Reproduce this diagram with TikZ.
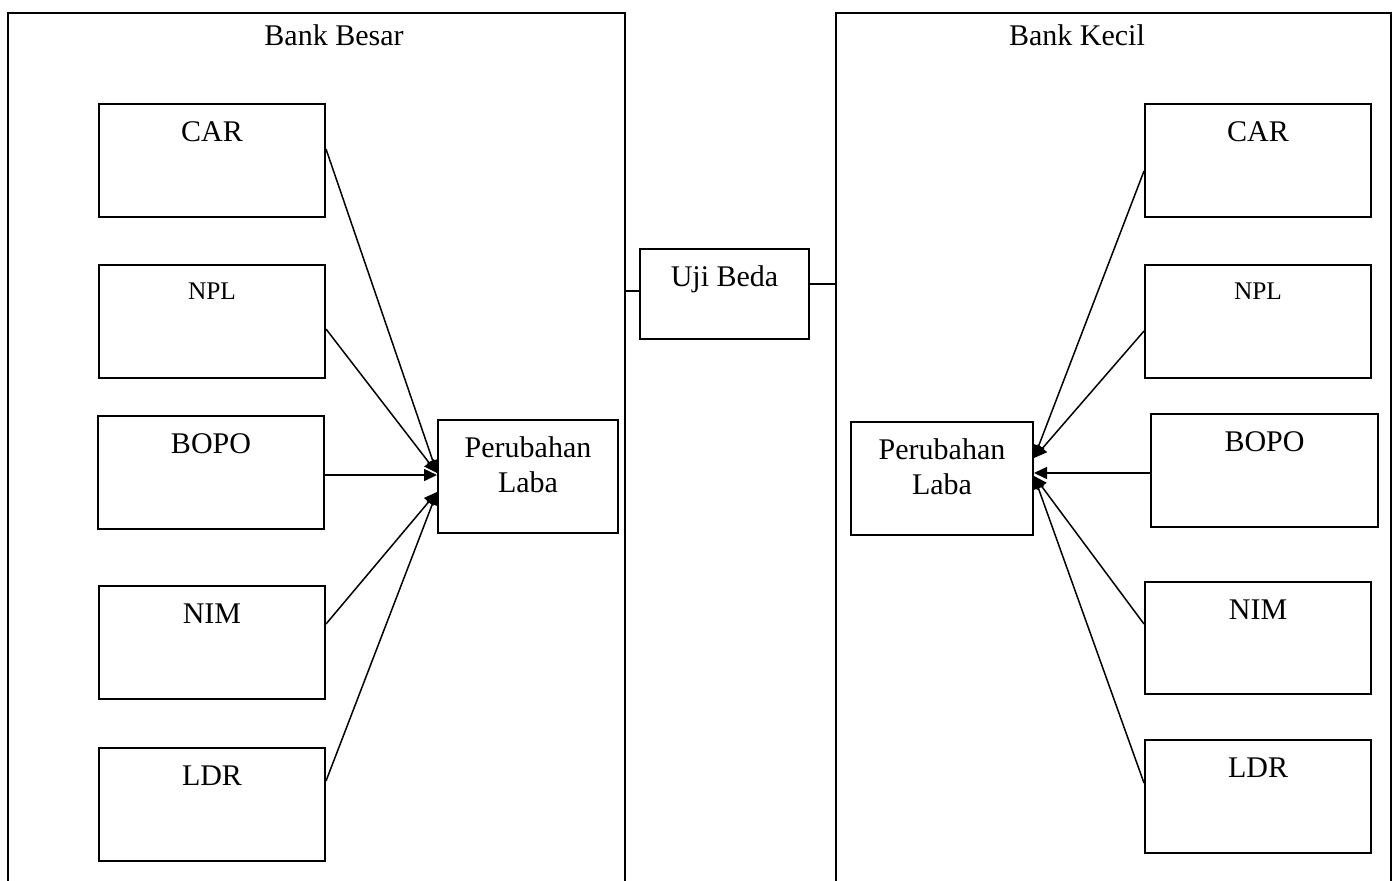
\documentclass[tikz,border=0pt]{standalone}
\usepackage{fontspec}
\setmainfont{Liberation Serif}
\usetikzlibrary{arrows.meta,positioning}
\begin{document}
\begin{tikzpicture}[x=0.5pt,y=-0.5pt,
  bigbox/.style={draw, line width=0.85pt, inner sep=0pt, anchor=north west, minimum height=450pt},
  bx/.style={draw, line width=1pt, inner sep=0pt, anchor=north west, minimum width=113pt, minimum height=56.5pt},
  txt/.style={font=\fontsize{15}{17}\selectfont},
  smalltxt/.style={font=\fontsize{12.7}{15}\selectfont},
  lab/.style={label={[anchor=base, yshift=-19pt, txt]north:#1}},
  slab/.style={label={[anchor=base, yshift=-17.5pt, smalltxt]north:#1}},
  lab2/.style={label={[anchor=base, yshift=-36.5pt, txt]north:#1}},
  conn/.style={line width=0.75pt, -{Triangle[length=6.5pt,width=6pt]}},
  plain/.style={line width=0.75pt}
]
\useasboundingbox (0,0) rectangle (1392,880);
\fill[white] (0,0) rectangle (1392,880);

% containers
\node[bigbox, minimum width=308.5pt] (bb) at (7,12) {};
\node[bigbox, minimum width=277.5pt] (bk) at (835,12) {};
\node[txt, anchor=base] (tbb) at (334,45) {Bank Besar};
\node[txt, anchor=base] (tbk) at (1077,45) {Bank Kecil};

% left side
\node[bx, lab=CAR] (lcar) at (98,103) {};
\node[bx, slab=NPL] (lnpl) at (98,264) {};
\node[bx, lab=BOPO] (lbopo) at (97,415) {};
\node[bx, lab=NIM] (lnim) at (98,585) {};
\node[bx, lab=LDR] (lldr) at (98,747) {};
\node[bx, minimum width=90pt, lab=Perubahan, lab2=Laba] (lpl) at (437,419) {};

% middle
\node[bx, minimum width=84.5pt, minimum height=45pt, lab={Uji Beda}] (uji) at (639,248) {};

% right side
\node[bx, lab=CAR] (rcar) at (1144,103) {};
\node[bx, slab=NPL] (rnpl) at (1144,264) {};
\node[bx, minimum width=113.5pt, lab=BOPO] (rbopo) at (1150,413) {};
\node[bx, minimum height=56pt, lab=NIM] (rnim) at (1144,581) {};
\node[bx, lab=LDR] (rldr) at (1144,739) {};
\node[bx, minimum width=91pt, lab=Perubahan, lab2=Laba] (rpl) at (850,421) {};

% left connectors
\draw[conn] ([yshift=5.75pt]lcar.east) -- ([yshift=1.75pt]lpl.west);
\draw[conn] ([yshift=-3.75pt]lnpl.east) -- ([yshift=1.75pt]lpl.west);
\draw[conn] ([yshift=-1.25pt]lbopo.east) -- ([yshift=0.75pt]lpl.west);
\draw[conn] ([yshift=9.25pt]lnim.east) -- ([yshift=-7.75pt]lpl.west);
\draw[conn] ([yshift=11.75pt]lldr.east) -- ([yshift=-7.75pt]lpl.west);

% right connectors
\draw[conn] ([yshift=-5.25pt]rcar.west) -- ([yshift=10.25pt]rpl.east);
\draw[conn] ([yshift=-4.75pt]rnpl.west) -- ([yshift=10.25pt]rpl.east);
\draw[conn] ([yshift=-1.25pt]rbopo.west) -- ([yshift=2.75pt]rpl.east);
\draw[conn] ([yshift=7pt]rnim.west) -- ([yshift=1.25pt]rpl.east);
\draw[conn] ([yshift=6.75pt]rldr.west) -- ([yshift=1.25pt]rpl.east);

% Uji Beda links
\coordinate (ujl) at ([yshift=1.5pt]uji.west);
\coordinate (ujr) at ([yshift=5pt]uji.east);
\draw[plain] (ujl) -- (ujl -| bb.east);
\draw[plain] (ujr) -- (ujr -| bk.west);
\end{tikzpicture}
\end{document}
